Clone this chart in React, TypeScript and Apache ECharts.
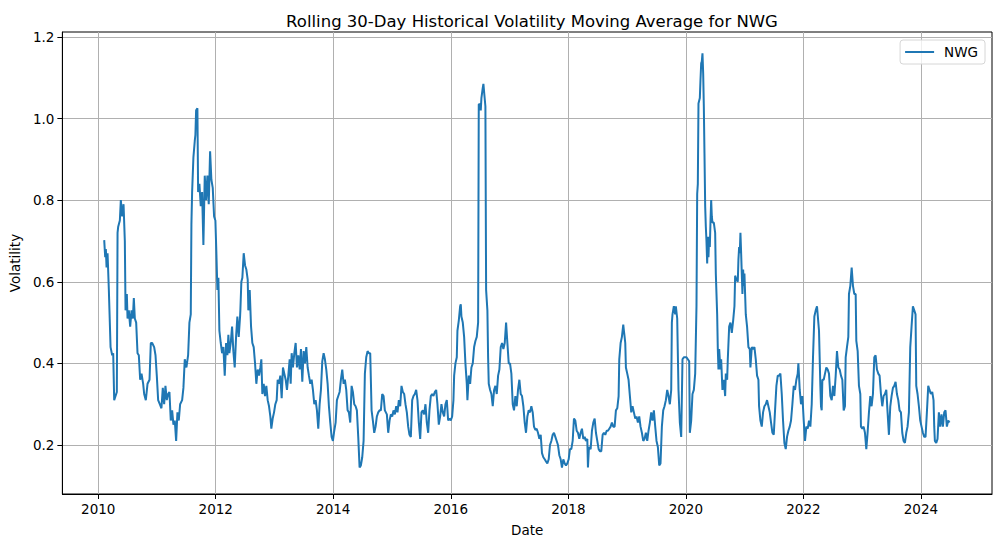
import React, { useEffect, useRef } from "react";
import * as echarts from "echarts";

const chartTitle = "Rolling 30-Day Historical Volatility Moving Average for NWG";
const seriesName = "NWG";
const xAxisName = "Date";
const yAxisName = "Volatility";
const xTicks = [2010, 2012, 2014, 2016, 2018, 2020, 2022, 2024];
const yTicks = [0.2, 0.4, 0.6, 0.8, 1.0, 1.2];

// [decimal year, volatility]
const vol2010to2012: [number, number][] = [
  [2010.102, 0.702], [2010.119, 0.66], [2010.13, 0.68], [2010.142, 0.635], [2010.159, 0.67],
  [2010.181, 0.58], [2010.21, 0.44], [2010.238, 0.42], [2010.255, 0.425], [2010.272, 0.31],
  [2010.295, 0.32], [2010.317, 0.33], [2010.329, 0.72], [2010.34, 0.735], [2010.368, 0.75],
  [2010.385, 0.8], [2010.408, 0.76], [2010.431, 0.79], [2010.453, 0.7], [2010.465, 0.53],
  [2010.487, 0.57], [2010.499, 0.51], [2010.521, 0.53], [2010.544, 0.49], [2010.567, 0.53],
  [2010.589, 0.51], [2010.606, 0.56], [2010.623, 0.51], [2010.646, 0.5], [2010.669, 0.425],
  [2010.691, 0.42], [2010.714, 0.36], [2010.737, 0.375], [2010.765, 0.35], [2010.782, 0.325],
  [2010.81, 0.31], [2010.839, 0.35], [2010.873, 0.36], [2010.895, 0.45], [2010.918, 0.45],
  [2010.952, 0.44], [2010.975, 0.42], [2010.997, 0.37], [2011.02, 0.31], [2011.048, 0.3],
  [2011.076, 0.29], [2011.099, 0.34], [2011.122, 0.3], [2011.144, 0.345], [2011.167, 0.31],
  [2011.19, 0.325], [2011.212, 0.33], [2011.235, 0.26], [2011.258, 0.285], [2011.28, 0.25],
  [2011.303, 0.26], [2011.326, 0.21], [2011.348, 0.28], [2011.371, 0.26], [2011.394, 0.3],
  [2011.428, 0.31], [2011.45, 0.34], [2011.473, 0.41], [2011.501, 0.39], [2011.53, 0.42],
  [2011.552, 0.5], [2011.575, 0.52], [2011.586, 0.74], [2011.598, 0.82], [2011.62, 0.905],
  [2011.643, 0.945], [2011.654, 0.96], [2011.666, 1.02], [2011.688, 1.025], [2011.7, 0.82],
  [2011.722, 0.84], [2011.745, 0.785], [2011.768, 0.82], [2011.79, 0.69], [2011.813, 0.86],
  [2011.836, 0.8], [2011.858, 0.86], [2011.881, 0.79], [2011.904, 0.92], [2011.926, 0.85],
  [2011.949, 0.83], [2011.972, 0.76], [2011.994, 0.75],
];

const vol2012to2014: [number, number][] = [
  [2012.011, 0.67], [2012.028, 0.58], [2012.045, 0.61], [2012.062, 0.48], [2012.085, 0.45],
  [2012.108, 0.425], [2012.13, 0.44], [2012.153, 0.37], [2012.176, 0.45], [2012.198, 0.42],
  [2012.215, 0.47], [2012.232, 0.425], [2012.255, 0.45], [2012.278, 0.49], [2012.3, 0.43],
  [2012.323, 0.39], [2012.346, 0.465], [2012.368, 0.515], [2012.391, 0.465], [2012.414, 0.515],
  [2012.419, 0.53], [2012.436, 0.6], [2012.453, 0.61], [2012.476, 0.67], [2012.499, 0.64],
  [2012.521, 0.63], [2012.544, 0.605], [2012.555, 0.53], [2012.578, 0.58], [2012.601, 0.49],
  [2012.623, 0.45], [2012.646, 0.44], [2012.669, 0.4], [2012.691, 0.35], [2012.714, 0.385],
  [2012.737, 0.37], [2012.759, 0.39], [2012.776, 0.41], [2012.793, 0.325], [2012.816, 0.35],
  [2012.839, 0.32], [2012.861, 0.345], [2012.884, 0.31], [2012.907, 0.295], [2012.929, 0.27],
  [2012.946, 0.24], [2012.969, 0.265], [2012.992, 0.28], [2013.014, 0.3], [2013.037, 0.31],
  [2013.054, 0.36], [2013.076, 0.35], [2013.099, 0.37], [2013.122, 0.315], [2013.144, 0.39],
  [2013.167, 0.375], [2013.19, 0.36], [2013.212, 0.335], [2013.235, 0.37], [2013.258, 0.41],
  [2013.275, 0.35], [2013.292, 0.425], [2013.314, 0.39], [2013.337, 0.425], [2013.36, 0.45],
  [2013.382, 0.39], [2013.405, 0.42], [2013.428, 0.385], [2013.45, 0.435], [2013.473, 0.355],
  [2013.496, 0.43], [2013.518, 0.4], [2013.541, 0.44], [2013.564, 0.39], [2013.586, 0.37],
  [2013.609, 0.35], [2013.632, 0.36], [2013.654, 0.335], [2013.677, 0.3], [2013.7, 0.31],
  [2013.722, 0.285], [2013.745, 0.24], [2013.768, 0.3], [2013.79, 0.335], [2013.813, 0.405],
  [2013.836, 0.425], [2013.858, 0.41], [2013.881, 0.385], [2013.904, 0.35], [2013.926, 0.295],
  [2013.949, 0.255], [2013.972, 0.22], [2013.994, 0.21],
];

const vol2014to2016: [number, number][] = [
  [2014.017, 0.235], [2014.04, 0.255], [2014.062, 0.31], [2014.085, 0.32], [2014.108, 0.33],
  [2014.13, 0.36], [2014.153, 0.385], [2014.176, 0.35], [2014.198, 0.36], [2014.221, 0.335],
  [2014.244, 0.285], [2014.266, 0.28], [2014.289, 0.255], [2014.312, 0.345], [2014.334, 0.33],
  [2014.357, 0.3], [2014.38, 0.295], [2014.402, 0.285], [2014.425, 0.22], [2014.448, 0.145],
  [2014.47, 0.15], [2014.493, 0.17], [2014.516, 0.21], [2014.538, 0.375], [2014.561, 0.415],
  [2014.584, 0.43], [2014.606, 0.425], [2014.629, 0.425], [2014.652, 0.285], [2014.674, 0.26],
  [2014.697, 0.23], [2014.72, 0.245], [2014.742, 0.27], [2014.765, 0.28], [2014.788, 0.285],
  [2014.81, 0.285], [2014.833, 0.325], [2014.856, 0.32], [2014.878, 0.285], [2014.912, 0.275],
  [2014.935, 0.23], [2014.958, 0.26], [2014.98, 0.275], [2015.003, 0.27], [2015.025, 0.285],
  [2015.048, 0.275], [2015.071, 0.295], [2015.093, 0.28], [2015.116, 0.31], [2015.139, 0.295],
  [2015.161, 0.345], [2015.184, 0.33], [2015.207, 0.325], [2015.229, 0.3], [2015.252, 0.28],
  [2015.275, 0.245], [2015.297, 0.225], [2015.32, 0.22], [2015.343, 0.31], [2015.365, 0.32],
  [2015.388, 0.325], [2015.411, 0.335], [2015.433, 0.31], [2015.456, 0.255], [2015.479, 0.215],
  [2015.501, 0.28], [2015.524, 0.285], [2015.547, 0.275], [2015.569, 0.3], [2015.592, 0.255],
  [2015.615, 0.23], [2015.637, 0.285], [2015.66, 0.32], [2015.683, 0.325], [2015.705, 0.32],
  [2015.728, 0.33], [2015.751, 0.335], [2015.773, 0.3], [2015.796, 0.25], [2015.819, 0.27],
  [2015.841, 0.3], [2015.864, 0.28], [2015.887, 0.27], [2015.909, 0.3], [2015.932, 0.31],
  [2015.955, 0.26], [2015.977, 0.265],
];

const vol2016to2018: [number, number][] = [
  [2016.0, 0.26], [2016.023, 0.27], [2016.045, 0.31], [2016.057, 0.37], [2016.079, 0.4],
  [2016.102, 0.415], [2016.113, 0.48], [2016.136, 0.505], [2016.159, 0.54], [2016.17, 0.545],
  [2016.181, 0.515], [2016.204, 0.5], [2016.227, 0.465], [2016.249, 0.4], [2016.272, 0.35],
  [2016.283, 0.31], [2016.306, 0.37], [2016.329, 0.35], [2016.351, 0.39], [2016.374, 0.4],
  [2016.397, 0.44], [2016.419, 0.455], [2016.442, 0.465], [2016.465, 0.5], [2016.476, 1.035],
  [2016.499, 1.035], [2016.51, 1.02], [2016.521, 1.05], [2016.544, 1.075], [2016.555, 1.085],
  [2016.567, 1.065], [2016.589, 1.03], [2016.601, 0.58], [2016.623, 0.53], [2016.635, 0.415],
  [2016.646, 0.35], [2016.669, 0.335], [2016.691, 0.325], [2016.714, 0.295], [2016.737, 0.335],
  [2016.759, 0.345], [2016.782, 0.325], [2016.805, 0.37], [2016.827, 0.385], [2016.85, 0.44],
  [2016.873, 0.45], [2016.895, 0.435], [2016.918, 0.45], [2016.941, 0.5], [2016.963, 0.45],
  [2016.986, 0.4], [2017.008, 0.4], [2017.031, 0.375], [2017.054, 0.3], [2017.076, 0.285],
  [2017.099, 0.32], [2017.122, 0.295], [2017.144, 0.335], [2017.167, 0.36], [2017.19, 0.325],
  [2017.212, 0.32], [2017.235, 0.295], [2017.258, 0.255], [2017.28, 0.23], [2017.303, 0.27],
  [2017.326, 0.285], [2017.348, 0.28], [2017.371, 0.295], [2017.394, 0.28], [2017.416, 0.245],
  [2017.439, 0.237], [2017.462, 0.24], [2017.484, 0.23], [2017.507, 0.215], [2017.53, 0.225],
  [2017.552, 0.18], [2017.575, 0.17], [2017.598, 0.165], [2017.62, 0.16], [2017.643, 0.155],
  [2017.666, 0.165], [2017.688, 0.2], [2017.711, 0.21], [2017.734, 0.225], [2017.756, 0.23],
  [2017.779, 0.22], [2017.802, 0.21], [2017.824, 0.2], [2017.847, 0.175], [2017.87, 0.165],
  [2017.892, 0.145], [2017.915, 0.165], [2017.938, 0.155], [2017.96, 0.15], [2017.983, 0.155],
];

const vol2018to2020: [number, number][] = [
  [2018.006, 0.165], [2018.028, 0.19], [2018.051, 0.19], [2018.074, 0.21], [2018.096, 0.265],
  [2018.119, 0.26], [2018.142, 0.235], [2018.164, 0.23], [2018.187, 0.215], [2018.21, 0.23],
  [2018.232, 0.24], [2018.255, 0.215], [2018.278, 0.22], [2018.3, 0.21], [2018.323, 0.215],
  [2018.334, 0.145], [2018.351, 0.195], [2018.38, 0.19], [2018.402, 0.235], [2018.425, 0.255],
  [2018.448, 0.265], [2018.47, 0.23], [2018.493, 0.21], [2018.516, 0.19], [2018.538, 0.185],
  [2018.561, 0.185], [2018.584, 0.225], [2018.606, 0.23], [2018.629, 0.225], [2018.652, 0.235],
  [2018.674, 0.235], [2018.697, 0.24], [2018.72, 0.245], [2018.742, 0.255], [2018.765, 0.245],
  [2018.788, 0.245], [2018.81, 0.285], [2018.833, 0.29], [2018.856, 0.32], [2018.867, 0.41],
  [2018.89, 0.45], [2018.912, 0.465], [2018.935, 0.495], [2018.946, 0.48], [2018.958, 0.465],
  [2018.969, 0.45], [2018.98, 0.39], [2019.003, 0.375], [2019.025, 0.36], [2019.048, 0.32],
  [2019.071, 0.28], [2019.093, 0.295], [2019.116, 0.28], [2019.139, 0.265], [2019.161, 0.27],
  [2019.184, 0.255], [2019.207, 0.27], [2019.229, 0.245], [2019.252, 0.23], [2019.275, 0.21],
  [2019.297, 0.215], [2019.32, 0.23], [2019.343, 0.21], [2019.365, 0.235], [2019.388, 0.255],
  [2019.411, 0.28], [2019.433, 0.26], [2019.456, 0.285], [2019.479, 0.245], [2019.501, 0.21],
  [2019.524, 0.195], [2019.547, 0.15], [2019.569, 0.155], [2019.592, 0.245], [2019.615, 0.285],
  [2019.637, 0.295], [2019.66, 0.31], [2019.683, 0.335], [2019.705, 0.32], [2019.728, 0.3],
  [2019.751, 0.335], [2019.762, 0.5], [2019.773, 0.52], [2019.796, 0.54], [2019.819, 0.52],
  [2019.83, 0.54], [2019.853, 0.51], [2019.875, 0.335], [2019.898, 0.255], [2019.921, 0.22],
  [2019.943, 0.41], [2019.966, 0.415], [2019.989, 0.415],
];

const vol2020to2022: [number, number][] = [
  [2020.011, 0.415], [2020.034, 0.41], [2020.057, 0.405], [2020.068, 0.23], [2020.091, 0.26],
  [2020.113, 0.325], [2020.136, 0.335], [2020.159, 0.375], [2020.181, 0.54], [2020.193, 0.815],
  [2020.204, 0.84], [2020.215, 1.037], [2020.238, 1.05], [2020.249, 1.094], [2020.261, 1.135],
  [2020.272, 1.14], [2020.283, 1.16], [2020.295, 1.11], [2020.306, 1.03], [2020.317, 0.915],
  [2020.329, 0.785], [2020.34, 0.735], [2020.351, 0.7], [2020.363, 0.645], [2020.374, 0.71],
  [2020.385, 0.66], [2020.397, 0.71], [2020.408, 0.685], [2020.419, 0.745], [2020.431, 0.8],
  [2020.442, 0.76], [2020.453, 0.745], [2020.476, 0.745], [2020.499, 0.72], [2020.51, 0.62],
  [2020.533, 0.52], [2020.544, 0.435], [2020.555, 0.385], [2020.567, 0.435], [2020.578, 0.41],
  [2020.589, 0.385], [2020.601, 0.41], [2020.623, 0.335], [2020.646, 0.36], [2020.669, 0.32],
  [2020.68, 0.375], [2020.703, 0.36], [2020.714, 0.41], [2020.737, 0.49], [2020.759, 0.5],
  [2020.782, 0.475], [2020.805, 0.505], [2020.827, 0.54], [2020.839, 0.615], [2020.861, 0.605],
  [2020.884, 0.6], [2020.895, 0.655], [2020.907, 0.685], [2020.918, 0.67], [2020.929, 0.72],
  [2020.941, 0.67], [2020.952, 0.62], [2020.963, 0.57], [2020.975, 0.63], [2020.986, 0.59],
  [2020.997, 0.62], [2021.02, 0.52], [2021.042, 0.49], [2021.065, 0.44], [2021.088, 0.435],
  [2021.099, 0.39], [2021.122, 0.44], [2021.144, 0.435], [2021.167, 0.44], [2021.19, 0.41],
  [2021.212, 0.37], [2021.235, 0.36], [2021.246, 0.295], [2021.269, 0.26], [2021.292, 0.245],
  [2021.314, 0.28], [2021.337, 0.295], [2021.36, 0.3], [2021.382, 0.31], [2021.405, 0.295],
  [2021.428, 0.28], [2021.45, 0.255], [2021.473, 0.23], [2021.496, 0.225], [2021.518, 0.285],
  [2021.541, 0.345], [2021.564, 0.37], [2021.586, 0.37], [2021.609, 0.375], [2021.632, 0.325],
  [2021.654, 0.26], [2021.677, 0.205], [2021.7, 0.19], [2021.722, 0.22], [2021.745, 0.235],
  [2021.768, 0.245], [2021.79, 0.26], [2021.813, 0.3], [2021.836, 0.345], [2021.858, 0.335],
  [2021.881, 0.36], [2021.904, 0.375], [2021.915, 0.4], [2021.938, 0.335], [2021.96, 0.3],
  [2021.983, 0.32],
];

const vol2022to2024: [number, number][] = [
  [2022.006, 0.26], [2022.028, 0.21], [2022.051, 0.245], [2022.074, 0.24], [2022.096, 0.26],
  [2022.119, 0.245], [2022.142, 0.3], [2022.164, 0.415], [2022.187, 0.515], [2022.21, 0.53],
  [2022.232, 0.54], [2022.244, 0.54], [2022.266, 0.48], [2022.289, 0.345], [2022.3, 0.295],
  [2022.312, 0.285], [2022.323, 0.36], [2022.346, 0.36], [2022.368, 0.375], [2022.391, 0.39],
  [2022.414, 0.385], [2022.436, 0.375], [2022.459, 0.32], [2022.482, 0.31], [2022.504, 0.345],
  [2022.527, 0.32], [2022.55, 0.37], [2022.572, 0.43], [2022.595, 0.39], [2022.618, 0.385],
  [2022.64, 0.37], [2022.663, 0.36], [2022.686, 0.285], [2022.708, 0.295], [2022.72, 0.415],
  [2022.742, 0.44], [2022.765, 0.465], [2022.776, 0.57], [2022.799, 0.59], [2022.822, 0.635],
  [2022.844, 0.59], [2022.867, 0.57], [2022.89, 0.57], [2022.901, 0.455], [2022.924, 0.43],
  [2022.946, 0.345], [2022.969, 0.325], [2022.98, 0.245], [2023.003, 0.24], [2023.025, 0.245],
  [2023.048, 0.23], [2023.071, 0.19], [2023.093, 0.23], [2023.116, 0.28], [2023.139, 0.32],
  [2023.161, 0.295], [2023.184, 0.325], [2023.207, 0.415], [2023.229, 0.42], [2023.252, 0.385],
  [2023.275, 0.375], [2023.297, 0.37], [2023.32, 0.325], [2023.343, 0.295], [2023.365, 0.32],
  [2023.388, 0.325], [2023.411, 0.335], [2023.433, 0.28], [2023.456, 0.225], [2023.479, 0.295],
  [2023.501, 0.32], [2023.524, 0.34], [2023.547, 0.345], [2023.569, 0.355], [2023.592, 0.325],
  [2023.615, 0.31], [2023.637, 0.285], [2023.66, 0.28], [2023.683, 0.23], [2023.705, 0.21],
  [2023.728, 0.205], [2023.751, 0.23], [2023.773, 0.245], [2023.796, 0.28], [2023.819, 0.44],
  [2023.841, 0.49], [2023.864, 0.54], [2023.887, 0.53], [2023.909, 0.52], [2023.921, 0.345],
  [2023.943, 0.325], [2023.966, 0.295], [2023.989, 0.26],
];

const vol2024: [number, number][] = [
  [2024.011, 0.245], [2024.034, 0.23], [2024.057, 0.22], [2024.079, 0.22], [2024.102, 0.28],
  [2024.125, 0.345], [2024.147, 0.335], [2024.17, 0.325], [2024.193, 0.33], [2024.215, 0.31],
  [2024.227, 0.245], [2024.238, 0.21], [2024.261, 0.205], [2024.283, 0.215], [2024.306, 0.28],
  [2024.329, 0.245], [2024.351, 0.275], [2024.374, 0.245], [2024.397, 0.28], [2024.419, 0.285],
  [2024.442, 0.245], [2024.465, 0.26], [2024.487, 0.255],
];

const FONT = "DejaVu Sans";

export default function App() {
  const ref = useRef<HTMLDivElement>(null);
  useEffect(() => {
    if (!ref.current) return;
    const chart = echarts.init(ref.current, undefined, { renderer: "svg" });
    const data = [
      ...vol2010to2012,
      ...vol2012to2014,
      ...vol2014to2016,
      ...vol2016to2018,
      ...vol2018to2020,
      ...vol2020to2022,
      ...vol2022to2024,
      ...vol2024,
    ];
    chart.setOption({
      animation: false,
      backgroundColor: "#ffffff",
      title: {
        text: chartTitle,
        left: 527,
        top: 8,
        textAlign: "center",
        textStyle: { fontFamily: FONT, fontSize: 16.5, fontWeight: "normal", color: "#000" },
      },
      legend: {
        data: [seriesName],
        right: 16,
        top: 40,
        orient: "vertical",
        icon: "rect",
        itemWidth: 29,
        itemHeight: 2,
        itemGap: 5,
        padding: [5, 7, 5, 5],
        borderColor: "#d6d6d6",
        borderWidth: 1,
        borderRadius: 3,
        backgroundColor: "rgba(255,255,255,0.8)",
        textStyle: { fontFamily: FONT, fontSize: 13.5, color: "#000", padding: [0, 0, 0, 5] },
      },
      grid: {
        left: 62,
        right: 9,
        top: 32,
        bottom: 53,
        containLabel: false,
        show: true,
        borderColor: "#000",
        borderWidth: 1,
        backgroundColor: "transparent",
      },
      xAxis: {
        type: "value",
        min: 2009.39,
        max: 2025.21,
        name: xAxisName,
        nameLocation: "middle",
        nameGap: 29,
        nameTextStyle: { fontFamily: FONT, fontSize: 13.5, color: "#000" },
        axisLine: { show: true, onZero: false, lineStyle: { color: "#000", width: 1 } },
        axisTick: { show: true, inside: false, length: 5, customValues: xTicks, lineStyle: { color: "#000" } },
        axisLabel: {
          customValues: xTicks,
          margin: 8,
          fontFamily: FONT,
          fontSize: 13.5,
          color: "#000",
          formatter: (v: number) => String(Math.round(v)),
        },
        splitLine: { show: true, lineStyle: { color: "#b0b0b0", width: 1 } },
      },
      yAxis: {
        type: "value",
        min: 0.08,
        max: 1.212,
        name: yAxisName,
        nameLocation: "middle",
        nameGap: 40,
        nameRotate: 90,
        nameTextStyle: { fontFamily: FONT, fontSize: 13.5, color: "#000" },
        axisLine: { show: true, onZero: false, lineStyle: { color: "#000", width: 1 } },
        axisTick: { show: true, inside: false, length: 5, customValues: yTicks, lineStyle: { color: "#000" } },
        axisLabel: {
          customValues: yTicks,
          margin: 8,
          fontFamily: FONT,
          fontSize: 13.5,
          color: "#000",
          formatter: (v: number) => v.toFixed(1),
        },
        splitLine: { show: true, lineStyle: { color: "#b0b0b0", width: 1 } },
      },
      series: [
        {
          name: seriesName,
          type: "line",
          data,
          showSymbol: false,
          symbol: "none",
          color: "#1f77b4",
          lineStyle: { color: "#1f77b4", width: 2 },
          clip: true,
        },
      ],
    });
    return () => chart.dispose();
  }, []);
  return (
    <div
      ref={ref}
      style={{ position: "fixed", left: 0, top: 0, width: 1001, height: 547, background: "#fff" }}
    />
  );
}
